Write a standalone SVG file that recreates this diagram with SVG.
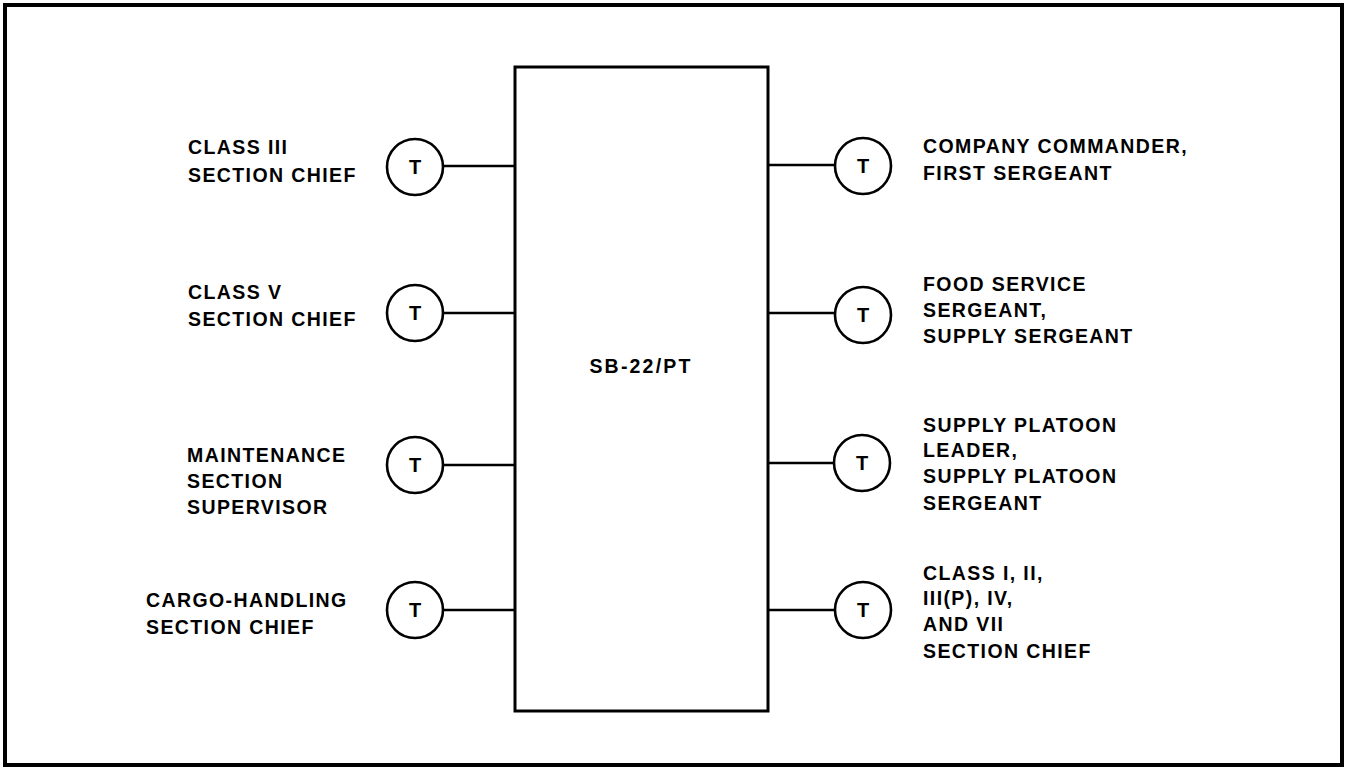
<svg xmlns="http://www.w3.org/2000/svg" width="1348" height="768" viewBox="0 0 1348 768">
<style>
.frame{fill:none;stroke:#000;stroke-width:4}
.box{fill:none;stroke:#000;stroke-width:3}
.c{fill:#fff;stroke:#000;stroke-width:2.6}
.ln{stroke:#000;stroke-width:2.6;fill:none}
text{font-family:"Liberation Sans",Arial,sans-serif;font-weight:bold;font-size:19.5px;fill:#000;letter-spacing:1.4px}
.t{text-anchor:middle;letter-spacing:0;font-size:20px}
</style>
<rect width="1348" height="768" fill="#fff"/>
<rect class="frame" x="5" y="5" width="1337" height="760"/>
<g id="connectors">
<line class="ln" x1="443" y1="166" x2="515" y2="166"/>
<line class="ln" x1="443" y1="313" x2="515" y2="313"/>
<line class="ln" x1="443" y1="465" x2="515" y2="465"/>
<line class="ln" x1="443" y1="610" x2="515" y2="610"/>
<line class="ln" x1="767" y1="165" x2="835" y2="165"/>
<line class="ln" x1="767" y1="313" x2="835" y2="313"/>
<line class="ln" x1="767" y1="463" x2="835" y2="463"/>
<line class="ln" x1="767" y1="610" x2="835" y2="610"/>
</g>
<g id="switchboard">
<rect class="box" x="515" y="67" width="253" height="644"/>
<text x="641" y="373" text-anchor="middle" style="letter-spacing:2.2px">SB-22/PT</text>
</g>
<g id="l1">
<circle class="c" cx="415" cy="167" r="28"/><text class="t" x="415" y="174">T</text>
<text x="188" y="154">CLASS III</text><text x="188" y="181.5">SECTION CHIEF</text>
</g>
<g id="l2">
<circle class="c" cx="415" cy="313" r="28"/><text class="t" x="415" y="320">T</text>
<text x="188" y="299">CLASS V</text><text x="188" y="326">SECTION CHIEF</text>
</g>
<g id="l3">
<circle class="c" cx="415" cy="465" r="28"/><text class="t" x="415" y="472">T</text>
<text x="187" y="461.5">MAINTENANCE</text><text x="187" y="488">SECTION</text><text x="187" y="514">SUPERVISOR</text>
</g>
<g id="l4">
<circle class="c" cx="415" cy="610" r="28"/><text class="t" x="415" y="617">T</text>
<text x="146" y="607">CARGO-HANDLING</text><text x="146" y="634">SECTION CHIEF</text>
</g>
<g id="r1">
<circle class="c" cx="863" cy="166" r="28"/><text class="t" x="863" y="173">T</text>
<text x="923" y="153">COMPANY COMMANDER,</text><text x="923" y="180">FIRST SERGEANT</text>
</g>
<g id="r2">
<circle class="c" cx="863" cy="315" r="28"/><text class="t" x="863" y="322">T</text>
<text x="923" y="290.5">FOOD SERVICE</text><text x="923" y="316.5">SERGEANT,</text><text x="923" y="342.5">SUPPLY SERGEANT</text>
</g>
<g id="r3">
<circle class="c" cx="862" cy="463" r="28"/><text class="t" x="862" y="470">T</text>
<text x="923" y="431.5">SUPPLY PLATOON</text><text x="923" y="457">LEADER,</text><text x="923" y="483">SUPPLY PLATOON</text><text x="923" y="510">SERGEANT</text>
</g>
<g id="r4">
<circle class="c" cx="863" cy="610" r="28"/><text class="t" x="863" y="617">T</text>
<text x="923" y="580">CLASS I, II,</text><text x="923" y="605">III(P), IV,</text><text x="923" y="631">AND VII</text><text x="923" y="658">SECTION CHIEF</text>
</g>
</svg>
